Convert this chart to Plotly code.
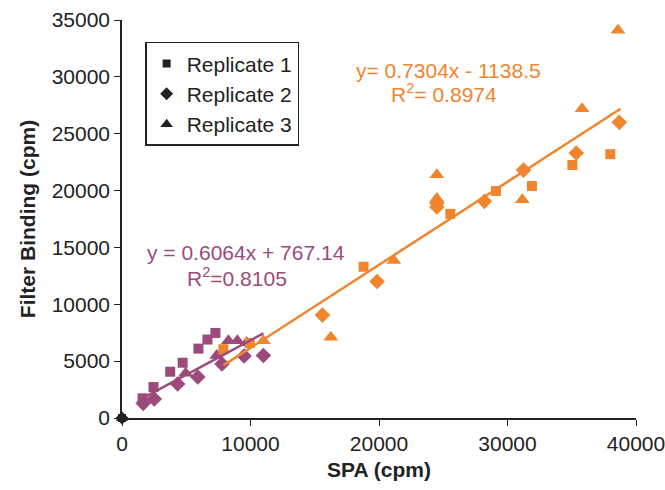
import plotly.graph_objects as go

PURPLE = "#9c4a7b"
ORANGE = "#f0852e"

# low range (purple)
low_rep1_x = [1600, 2450, 3750, 4720, 5950, 6650, 7270]
low_rep1_y = [1730, 2720, 4070, 4860, 6100, 6900, 7480]
low_rep2_x = [1650, 2510, 4330, 5900, 7780, 9500, 11000]
low_rep2_y = [1290, 1680, 2990, 3600, 4750, 5450, 5500]
low_rep3_x = [4950, 7370, 8280, 8980, 9700]
low_rep3_y = [3930, 5500, 6800, 6800, 6620]

# high range (orange)
high_rep1_x = [7890, 9950, 18800, 25550, 29100, 31900, 35050, 38000]
high_rep1_y = [6050, 6600, 13300, 17950, 19960, 20400, 22250, 23200]
high_rep2_x = [15600, 19850, 24500, 24500, 28200, 31250, 35350, 38700]
high_rep2_y = [9050, 12000, 18550, 18900, 19050, 21800, 23300, 26000]
high_rep3_x = [11000, 16250, 21150, 24500, 24500, 31150, 35800, 38600]
high_rep3_y = [6800, 7100, 13850, 19300, 21400, 19200, 27200, 34100]

# origin points (black, shown in legend)
zero_x = [0]
zero_y = [0]

# trendlines as printed on the chart
low_fit = (0.6064, 767.14)
high_fit = (0.7304, -1138.5)
low_range = [1650, 11000]
high_range = [7890, 38800]

symbols = ["square", "diamond", "triangle-up"]
sizes = [10, 12, 13]
names = ["Replicate 1", "Replicate 2", "Replicate 3"]

fig = go.Figure()

low = [(low_rep1_x, low_rep1_y), (low_rep2_x, low_rep2_y), (low_rep3_x, low_rep3_y)]
high = [(high_rep1_x, high_rep1_y), (high_rep2_x, high_rep2_y), (high_rep3_x, high_rep3_y)]

for (x, y), sym, sz in zip(low, symbols, sizes):
    fig.add_trace(go.Scatter(x=x, y=y, mode="markers", showlegend=False,
                             marker=dict(symbol=sym, size=sz, color=PURPLE)))
for (x, y), sym, sz in zip(high, symbols, sizes):
    fig.add_trace(go.Scatter(x=x, y=y, mode="markers", showlegend=False,
                             marker=dict(symbol=sym, size=sz, color=ORANGE)))

fig.add_trace(go.Scatter(
    x=low_range, y=[low_fit[0] * v + low_fit[1] for v in low_range],
    mode="lines", line=dict(color=PURPLE, width=2.5), showlegend=False))
fig.add_trace(go.Scatter(
    x=high_range, y=[high_fit[0] * v + high_fit[1] for v in high_range],
    mode="lines", line=dict(color=ORANGE, width=2.5), showlegend=False))

for sym, sz, nm in zip(symbols, sizes, names):
    fig.add_trace(go.Scatter(x=zero_x, y=zero_y, mode="markers", name=nm,
                             cliponaxis=False,
                             marker=dict(symbol=sym, size=sz - 2, color="#222222")))

font = "Liberation Sans, Arial, sans-serif"


def note(x, y, text, color):
    return dict(x=x, y=y, xref="paper", yref="paper", showarrow=False,
                xanchor="center", yanchor="middle",
                text=text, font=dict(color=color, size=21))


fig.update_layout(
    width=665, height=490,
    margin=dict(l=122, r=29, t=20, b=72),
    plot_bgcolor="white", paper_bgcolor="white",
    font=dict(family=font, size=21, color="#222222"),
    showlegend=True,
    legend=dict(x=0.045, y=0.945, xanchor="left", yanchor="top",
                bordercolor="#222222", borderwidth=1.5, bgcolor="white",
                font=dict(size=21), itemwidth=30, tracegroupgap=0),
    xaxis=dict(range=[0, 40000], tickvals=[0, 10000, 20000, 30000, 40000],
               showgrid=False, zeroline=False, showline=True, automargin=False,
               linecolor="#222222", linewidth=1.5, ticks="outside",
               ticklen=6, tickcolor="#222222", tickformat="d",
               ticklabeloverflow="allow",
               title=dict(text="<b>SPA (cpm)</b>", font=dict(size=21), standoff=8)),
    yaxis=dict(range=[0, 35000], dtick=5000,
               showgrid=False, zeroline=False, showline=True, automargin=False,
               linecolor="#222222", linewidth=1.5, ticks="outside",
               ticklen=6, tickcolor="#222222", tickformat="d",
               ticklabeloverflow="allow",
               title=dict(text="<b>Filter Binding (cpm)</b>", font=dict(size=21), standoff=10)),
    annotations=[
        note(0.636, 0.874, "y= 0.7304x - 1138.5", ORANGE),
        note(0.626, 0.817, "R<sup>2</sup>= 0.8974", ORANGE),
        note(0.242, 0.415, "y = 0.6064x + 767.14", PURPLE),
        note(0.224, 0.354, "R<sup>2</sup>=0.8105", PURPLE),
    ],
)

fig.write_html("out.html", config={"displayModeBar": False})

# drop the default page margin so the figure fills the window
with open("out.html", "r") as f:
    html = f.read()
html = html.replace("</head>", "<style>body{margin:0;overflow:hidden}</style></head>", 1)
with open("out.html", "w") as f:
    f.write(html)
